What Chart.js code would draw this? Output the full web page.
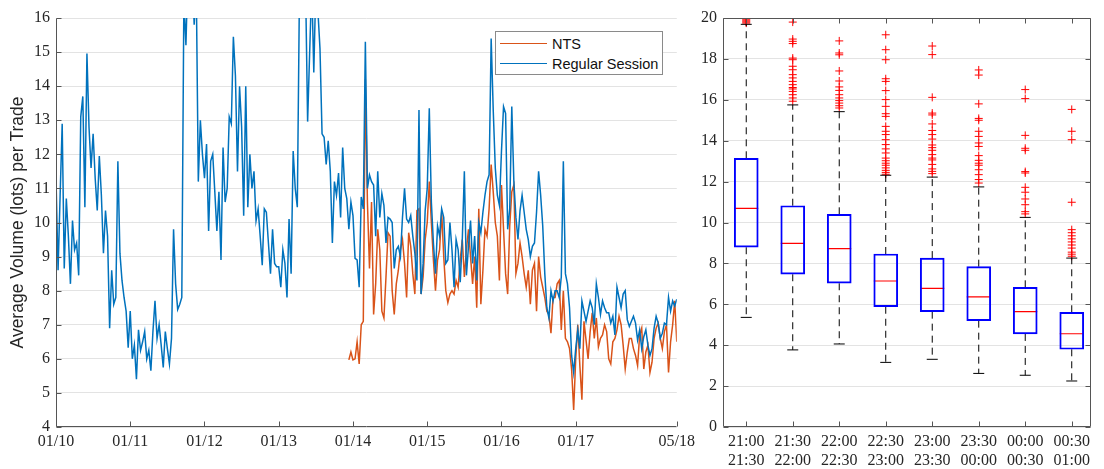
<!DOCTYPE html>
<html>
<head>
<meta charset="utf-8">
<script src="https://cdn.jsdelivr.net/npm/chart.js@4.4.1/dist/chart.umd.min.js"></script>
<style>
  html, body { margin: 0; padding: 0; background: #fff; }
  #wrap { position: relative; width: 1104px; height: 469px; overflow: hidden; background: #fff; }
  #lineChart { position: absolute; left: 0; top: 0; }
  #boxChart  { position: absolute; left: 696px; top: 0; }
  .legend { position: absolute; left: 495px; top: 31px; width: 166px; height: 42px;
            border: 1px solid #8a8a8a; background: #fff;
            font-family: 'Liberation Sans', Arial, sans-serif; font-size: 14.5px; color: #111; }
  .legend-item { position: absolute; left: 0; width: 100%; height: 20px; line-height: 20px; }
  .legend-line { position: absolute; left: 4px; top: 9px; width: 47px; height: 0; border-top: 1.5px solid; }
  .legend-text { position: absolute; left: 56px; top: 0; white-space: nowrap; }
</style>
</head>
<body>
<div id="wrap">
  <canvas id="lineChart" width="700" height="469"></canvas>
  <canvas id="boxChart" width="408" height="469"></canvas>
  <div class="legend" id="legend"></div>
</div>
<script>
'use strict';

/* ── Left panel: average volume per trade (36 samples per day) ── */

var PER_DAY = 36;
var dayLabels = ['01/10', '01/11', '01/12', '01/13', '01/14', '01/15', '01/16', '01/17', '05/18'];

var sessionVol = [
  11.3, 8.6, 10.8, 12.9, 8.65, 10.7, 9.6, 8.2, 10.06, 9.2,
  9.4, 8.45, 13.1, 13.7, 10.45, 14.96, 12.8, 11.6, 12.6, 11.3,
  10.35, 11.95, 10.8, 9.1, 10.35, 9.6, 6.9, 8.6, 7.6, 7.8,
  11.8, 9.1, 8.3, 7.8, 7.4, 6.33, 7.4, 6.0, 6.4, 5.4,
  6.85, 6.25, 6.5, 6.8, 6.0, 6.25, 5.65, 6.8, 7.7, 6.6,
  7.0, 6.4, 5.75, 6.8, 6.3, 5.85, 6.6, 9.8, 8.2, 7.45,
  7.6, 7.8, 16.5, 15.2, 17.5, 18, 17.5, 15.8, 17, 11.2,
  13.0, 12.0, 11.3, 12.3, 9.75, 11.8, 12.0, 10.9, 9.75, 10.9,
  8.9, 12.2, 10.6, 11.0, 13.1, 12.9, 15.45, 14.3, 11.5, 14.0,
  12.8, 10.2, 14.0, 10.45, 12.0, 11.0, 11.5, 10.05, 10.4, 9.6,
  8.75, 10.4, 10.3, 9.4, 8.5, 9.8, 8.8, 8.7, 8.7, 8.1,
  9.2, 8.8, 7.8, 10.1, 8.5, 12.1, 11.0, 10.45, 16.5, 18,
  18.5, 17, 12.96, 15, 17, 14.4, 17, 16.2, 15.1, 12.6,
  12.5, 11.7, 12.4, 11.5, 9.4, 11.2, 10.8, 11.45, 10.15, 12.2,
  11.0, 10.7, 9.8, 10.6, 10.2, 8.95, 8.9, 8.1, 10.75, 10.4,
  15.3, 11.0, 11.4, 11.2, 11.1, 9.6, 11.5, 10.15, 10.85, 10.5,
  9.4, 10.15, 10.1, 10.0, 8.65, 9.2, 9.3, 9.0, 10.15, 11.0,
  10.1, 10.0, 10.2, 9.6, 9.1, 8.3, 13.3, 7.9, 8.8, 10.35,
  11.0, 13.35, 10.6, 9.4, 8.5, 9.9, 9.6, 10.4, 10.15, 8.8,
  8.9, 10.0, 9.2, 8.1, 9.5, 9.2, 8.25, 9.5, 11.5, 8.45,
  9.3, 10.06, 8.8, 9.6, 8.3, 10.0, 9.7, 10.3, 10.8, 11.2,
  11.4, 15.4, 13.3, 11.6, 10.8, 10.5, 12.1, 13.4, 13.2, 9.8,
  10.4, 13.4, 11.2, 10.15, 9.5, 10.35, 10.8, 10.3, 9.8, 9.5,
  9.0, 9.3, 9.4, 10.3, 11.5, 10.8, 9.9, 8.5, 7.5, 7.2,
  8.0, 7.7, 8.0, 8.0, 7.8, 8.4, 11.8, 8.5, 8.2, 7.5,
  6.1, 5.6, 6.3, 6.85, 6.3, 7.7, 7.4, 7.1, 7.4, 7.7,
  7.5, 7.0, 8.2, 7.8, 7.3, 7.7, 7.5, 7.35, 7.35, 7.05,
  7.25, 6.7, 8.1, 7.8, 7.5, 7.9, 8.0, 7.15, 6.95, 7.1,
  7.25, 7.05, 6.55, 6.85, 6.3, 6.65, 6.85, 6.4, 6.1, 6.3,
  6.9, 7.25, 7.05, 6.6, 6.75, 7.05, 7.0, 7.8, 7.4, 7.7,
  7.55, 7.75
];

/* NTS only starts trading late on 01/13 */
var NTS_START = 142;
var ntsValues = [
  5.97, 6.2, 5.97, 6.0, 6.5, 5.85, 7.0, 7.1, 14.2,
  10.6, 8.65, 10.6, 7.3, 8.2, 9.8, 9.2, 7.4, 7.2, 8.4,
  9.7, 9.6, 8.0, 7.3, 8.2, 8.6, 9.2, 9.5, 8.8, 7.8,
  9.7, 9.3, 8.5, 7.9, 10.35, 10.4, 7.9, 8.4, 9.5, 10.0,
  11.2, 10.0, 8.9, 8.0, 8.9, 9.2, 10.3, 9.0, 8.0, 7.65,
  7.9, 8.0, 7.9, 8.3, 8.1, 8.9, 9.5, 8.4, 9.2, 9.8,
  9.0, 8.2, 9.0, 7.5, 10.4, 7.6, 8.6, 9.8, 9.6, 10.4,
  11.7, 10.9, 10.0, 9.6, 8.3, 11.1, 9.8, 8.5, 7.9, 9.9,
  10.9, 11.1, 8.5, 8.8, 9.4, 9.0, 8.5, 8.1, 8.6, 7.6,
  8.6, 8.8, 7.4, 9.0, 8.4, 8.1, 7.8, 7.4, 7.3, 6.75,
  7.8, 7.8, 8.2, 8.3, 6.85, 8.0, 6.6, 6.5, 6.3, 5.7,
  4.5, 6.0, 7.0, 5.8, 4.8, 7.1, 6.55, 6.0, 6.8, 7.35,
  6.6, 7.2, 6.35, 6.6, 6.7, 7.0, 6.8, 6.0, 5.85, 6.5,
  6.6, 6.85, 7.25, 7.0, 6.4, 5.7, 6.2, 6.6, 6.6, 6.3,
  6.1, 5.8, 6.7, 6.9, 5.7, 6.2, 6.4, 5.6, 5.9, 6.6,
  6.9, 7.05, 6.6, 6.3, 6.8, 7.0, 5.6, 6.5, 7.0, 7.7, 6.5
];
var ntsVol = new Array(NTS_START).fill(null).concat(ntsValues);

/* ── Right panel: box plot per half-hour slot ── */

var slotLabels = [
  ['21:00', '21:30'], ['21:30', '22:00'], ['22:00', '22:30'], ['22:30', '23:00'],
  ['23:00', '23:30'], ['23:30', '00:00'], ['00:00', '00:30'], ['00:30', '01:00']
];
var whiskerLow  = [5.36, 3.77, 4.06, 3.16, 3.31, 2.62, 2.53, 2.25];
var quartile1   = [8.79, 7.47, 7.03, 5.88, 5.64, 5.20, 4.55, 3.80];
var medians     = [10.69, 8.98, 8.72, 7.14, 6.78, 6.36, 5.64, 4.56];
var quartile3   = [13.14, 10.82, 10.40, 8.46, 8.26, 7.84, 6.83, 5.61];
var whiskerHigh = [19.69, 15.75, 15.42, 12.31, 12.22, 11.74, 10.25, 8.26];
var outliers = [
  [19.75, 19.8, 19.85, 19.9, 19.95, 20.0],
  [19.8, 18.97, 18.86, 18.75, 18.04, 17.96, 17.64, 17.47, 17.23, 17.07, 16.9, 16.74, 16.6, 16.53, 16.41, 16.25, 16.09, 15.93],
  [18.88, 18.29, 18.2, 17.41, 16.92, 16.63, 16.46, 16.25, 16.09, 15.96, 15.84, 15.71, 15.6],
  [19.18, 18.45, 17.96, 17.03, 16.9, 16.45, 16.01, 15.68, 15.32, 15.19, 14.7, 14.46, 14.3, 14.05, 13.81, 13.6, 13.4, 13.15, 13.02, 12.9, 12.8, 12.67, 12.55, 12.45, 12.36],
  [18.63, 18.21, 16.12, 15.35, 15.26, 14.82, 14.5, 14.3, 14.08, 13.79, 13.66, 13.53, 13.32, 13.15, 13.06, 12.84, 12.62, 12.5, 12.39],
  [17.46, 17.21, 15.8, 15.09, 15.0, 14.46, 14.21, 13.89, 13.72, 13.27, 13.04, 12.9, 12.8, 12.58, 12.34, 12.1, 11.93],
  [16.5, 16.06, 14.26, 13.63, 13.53, 12.49, 12.42, 11.72, 11.48, 11.15, 10.87, 10.53, 10.42],
  [15.53, 14.46, 14.05, 10.99, 9.65, 9.5, 9.35, 9.2, 9.05, 8.9, 8.75, 8.55, 8.45, 8.35]
];

/* ── Styling ─────────────────────────────────────────── */

var BLUE   = '#0072BD';
var ORANGE = '#D95319';
var AXIS   = '#555555';
var GRID   = '#e3e3e3';
var TEXT   = '#262626';
var SERIF  = { family: "'Liberation Serif', 'DejaVu Serif', serif", size: 16 };

/* MATLAB-style axes: lines + inward tick marks drawn over the data */
var frame = {
  id: 'frame',
  afterDatasetsDraw: function (chart, args, opts) {
    var ctx = chart.ctx, a = chart.chartArea;
    var xs = chart.scales.x, ys = chart.scales.y;
    var L = Math.round(a.left) + 0.5, R = Math.round(a.right) - 0.5;
    var T = Math.round(a.top) + 0.5, B = Math.round(a.bottom) - 0.5;
    var len = 5;
    ctx.save();
    ctx.strokeStyle = AXIS;
    ctx.lineWidth = 1;
    ctx.beginPath();
    ctx.moveTo(L, T); ctx.lineTo(L, B); ctx.lineTo(R, B);
    if (opts.box) { ctx.lineTo(R, T); ctx.lineTo(L, T); }
    xs.ticks.forEach(function (t, i) {
      var x = Math.round(xs.getPixelForTick(i)) + 0.5;
      ctx.moveTo(x, B); ctx.lineTo(x, B - len);
      if (opts.box) { ctx.moveTo(x, T); ctx.lineTo(x, T + len); }
    });
    ys.ticks.forEach(function (t, i) {
      var y = Math.round(ys.getPixelForTick(i)) + 0.5;
      ctx.moveTo(L, y); ctx.lineTo(L + len, y);
      if (opts.box) { ctx.moveTo(R, y); ctx.lineTo(R - len, y); }
    });
    ctx.stroke();
    ctx.restore();
  }
};

/* ── Left chart ──────────────────────────────────────── */

var dayTicks = dayLabels.map(function (d, i) {
  return i < dayLabels.length - 1 ? i * PER_DAY : sessionVol.length - 1;
});

new Chart(document.getElementById('lineChart'), {
  type: 'line',
  data: {
    labels: sessionVol.map(function (v, i) { return i; }),
    datasets: [
      { label: 'NTS', data: ntsVol, borderColor: ORANGE, borderWidth: 1.5,
        pointRadius: 0, tension: 0, order: 1 },
      { label: 'Regular Session', data: sessionVol, borderColor: BLUE, borderWidth: 1.5,
        pointRadius: 0, tension: 0, order: 0 }
    ]
  },
  options: {
    responsive: false,
    devicePixelRatio: 1,
    animation: false,
    events: [],
    layout: { padding: { left: 0, right: 23, top: 18, bottom: 0 } },
    plugins: { legend: { display: false }, tooltip: { enabled: false }, frame: { box: false } },
    scales: {
      x: {
        type: 'linear',
        min: 0,
        max: sessionVol.length - 1,
        afterBuildTicks: function (s) {
          s.ticks = dayTicks.map(function (v) { return { value: v }; });
        },
        afterFit: function (s) { s.height = 42; },
        grid: { display: false, drawTicks: false },
        border: { display: false },
        ticks: {
          autoSkip: false, maxRotation: 0, padding: 5, color: TEXT, font: SERIF,
          callback: function (v, i) { return dayLabels[i]; }
        }
      },
      y: {
        min: 4,
        max: 16,
        afterFit: function (s) { s.width = 56; },
        grid: { color: GRID, drawTicks: false },
        border: { display: false },
        ticks: { stepSize: 1, padding: 6, color: TEXT, font: SERIF },
        title: {
          display: true,
          text: 'Average Volume (lots) per Trade',
          color: TEXT,
          font: { family: "'Liberation Sans', Arial, sans-serif", size: 17.5 },
          padding: { top: 8, bottom: 0 }
        }
      }
    }
  },
  plugins: [frame]
});

/* Legend inside the plot, top right */
document.getElementById('legend').innerHTML =
  [['NTS', ORANGE, 2], ['Regular Session', BLUE, 22]].map(function (e) {
    return '<div class="legend-item" style="top:' + e[2] + 'px">' +
      '<span class="legend-line" style="border-color:' + e[1] + '"></span>' +
      '<span class="legend-text">' + e[0] + '</span></div>';
  }).join('');

/* ── Right chart: box plot ───────────────────────────── */

var slotPos = slotLabels.map(function (s, i) { return i + 1; });

var whiskerPts = [];
slotPos.forEach(function (x, i) {
  whiskerPts.push({ x: x, y: quartile3[i] }, { x: x, y: whiskerHigh[i] }, { x: x, y: null },
                  { x: x, y: quartile1[i] }, { x: x, y: whiskerLow[i] }, { x: x, y: null });
});

var outlierPts = [];
outliers.forEach(function (list, i) {
  list.forEach(function (v) { outlierPts.push({ x: slotPos[i], y: v }); });
});

new Chart(document.getElementById('boxChart'), {
  type: 'line',
  data: {
    labels: slotPos,
    datasets: [
      { type: 'bar', label: 'IQR', data: quartile1.map(function (q, i) { return [q, quartile3[i]]; }),
        backgroundColor: 'rgba(0,0,0,0)', borderColor: '#0000ff', borderWidth: 1.3,
        borderSkipped: false, barThickness: 24, grouped: false },
      { label: 'whiskers', data: whiskerPts, borderColor: '#000', borderWidth: 1,
        borderDash: [7, 5], pointRadius: 0, spanGaps: false, tension: 0 },
      { label: 'upper', data: whiskerHigh, showLine: false, pointStyle: 'line',
        pointRadius: 5.5, pointBorderColor: '#000', pointBorderWidth: 1 },
      { label: 'lower', data: whiskerLow, showLine: false, pointStyle: 'line',
        pointRadius: 5.5, pointBorderColor: '#000', pointBorderWidth: 1 },
      { label: 'median', data: medians, showLine: false, pointStyle: 'line',
        pointRadius: 12, pointBorderColor: '#ff0000', pointBorderWidth: 1.2 },
      { label: 'outliers', data: outlierPts, showLine: false, pointStyle: 'cross',
        pointRadius: 4, pointBorderColor: '#ff0000', pointBorderWidth: 1 }
    ]
  },
  options: {
    responsive: false,
    devicePixelRatio: 1,
    animation: false,
    events: [],
    layout: { padding: { left: 0, right: 6, top: 18, bottom: 0 } },
    plugins: { legend: { display: false }, tooltip: { enabled: false }, frame: { box: true } },
    scales: {
      x: {
        type: 'linear',
        min: 0.5,
        max: 8.41,
        offset: false,
        afterBuildTicks: function (s) {
          s.ticks = slotPos.map(function (v) { return { value: v }; });
        },
        afterFit: function (s) { s.height = 42; },
        grid: { display: false, drawTicks: false },
        border: { display: false },
        ticks: {
          autoSkip: false, maxRotation: 0, padding: 5, color: TEXT, font: SERIF,
          callback: function (v, i) { return slotLabels[i]; }
        }
      },
      y: {
        min: 0,
        max: 20,
        afterFit: function (s) { s.width = 27; },
        grid: { color: GRID, drawTicks: false },
        border: { display: false },
        ticks: { stepSize: 2, padding: 6, color: TEXT, font: SERIF }
      }
    }
  },
  plugins: [frame]
});
</script>
</body>
</html>
